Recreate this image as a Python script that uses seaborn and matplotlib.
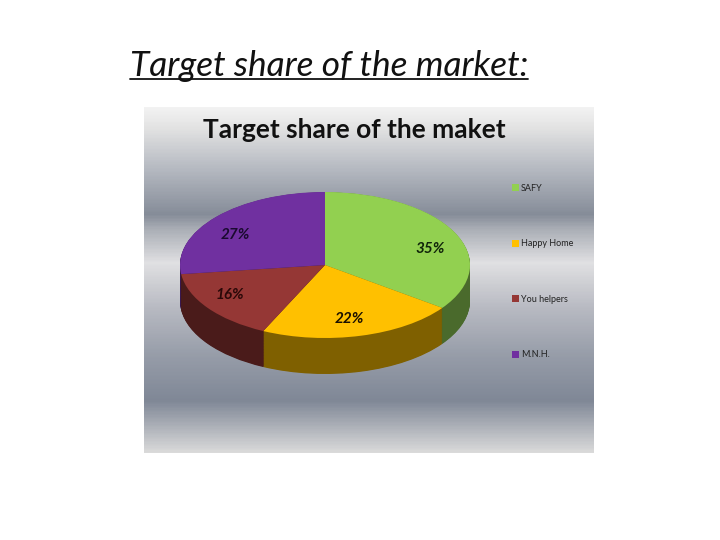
import numpy as np
import matplotlib
matplotlib.use("Agg")
import matplotlib.pyplot as plt
from matplotlib.colors import LinearSegmentedColormap
from matplotlib.lines import Line2D
from matplotlib.patches import Patch
import seaborn as sns

categories = ["SAFY", "Happy Home", "You helpers", "M.N.H."]
shares = [35, 22, 16, 27]
top_colors = ["#92D050", "#FFC000", "#953735", "#7030A0"]
side_colors = ["#4A6A2C", "#7F6000", "#4A1B1A", "#38184F"]
label_text = ["35%", "22%", "16%", "27%"]
label_colors = ["#10240A", "#1A1000", "#2A0808", "#1A0A30"]
main_title = "Target share of the market:"
panel_title = "Target share of the maket"

sns.set_theme(style="white")
plt.rcParams["font.family"] = ["Lato", "DejaVu Sans"]

W, H = 720, 540
fig = plt.figure(figsize=(W / 100, H / 100), dpi=100, facecolor="white")


def box(x0, y0, x1, y1):
    return [x0 / W, 1 - y1 / H, (x1 - x0) / W, (y1 - y0) / H]


# gradient panel
stops = [(0.0, "#F2F2F2"), (0.06, "#E2E2E2"), (0.18, "#B4B8C0"), (0.31, "#858C98"),
         (0.35, "#A8ACB4"), (0.45, "#E0E0E2"), (0.58, "#B8BAC2"), (0.72, "#969CA8"),
         (0.85, "#7F8796"), (1.0, "#DADADA")]
cmap = LinearSegmentedColormap.from_list("panel", stops)
bg = fig.add_axes(box(144, 107, 594, 453))
sns.heatmap(np.linspace(0, 1, 256).reshape(-1, 1), ax=bg, cmap=cmap, cbar=False,
            xticklabels=False, yticklabels=False, vmin=0, vmax=1)
bg.set_axis_off()

# extruded pie
ax = fig.add_axes(box(180, 192, 470, 374))
ax.patch.set_alpha(0)
depth = 2 * 36 / 146
flat = dict(linewidth=0, edgecolor="none")
for off in np.linspace(depth, 0.004, 60):
    ax.pie(shares, colors=side_colors, startangle=90, counterclock=False,
           center=(0, -off), radius=1, wedgeprops=flat)
wedges, _ = ax.pie(shares, colors=top_colors, startangle=90, counterclock=False,
                   center=(0, 0), radius=1, wedgeprops=flat)
ax.set_aspect("auto")
ax.set_xlim(-1, 1)
ax.set_ylim(-1 - depth, 1)
ax.set_axis_off()

# percentage labels, placed along each wedge's mid-angle
radial = [0.765, 0.73, 0.76, 0.76]
angle_shift = [-8, -1, -6, 6]
ang = 90 - (np.cumsum(shares) - np.array(shares) / 2) * 3.6 + np.array(angle_shift)
for a, r, t, c in zip(ang, radial, label_text, label_colors):
    ax.text(r * np.cos(np.radians(a)), r * np.sin(np.radians(a)) - 2 / 73, t, color=c,
            fontsize=11, fontweight="bold", fontstyle="italic", ha="center", va="center",
            family="Lato")

# titles
t1 = fig.text(130 / W, 1 - 66 / H, main_title, fontsize=25.4, fontstyle="italic",
              color="#111111", ha="left", va="center", family="Lato")
fig.text(354 / W, 1 - 130 / H, panel_title, fontsize=19, fontweight="bold",
         color="#111111", ha="center", va="center", family="Lato")
fig.canvas.draw()
ext = t1.get_window_extent()
fig.add_artist(Line2D([ext.x0 / W, ext.x1 / W], [1 - 79 / H, 1 - 79 / H], color="#111111", lw=1.3))

# legend
handles = [Patch(facecolor=c, edgecolor="none", label=n) for c, n in zip(top_colors, categories)]
fig.legend(handles=handles, loc="upper left", bbox_to_anchor=(512 / W, 1 - 184 / H),
           frameon=False, fontsize=6.5, labelspacing=5.15, handlelength=0.75, handleheight=0.85,
           handletextpad=0.25, borderpad=0, borderaxespad=0, labelcolor="#222222")

fig.savefig("out.png", dpi=100, facecolor="white")
